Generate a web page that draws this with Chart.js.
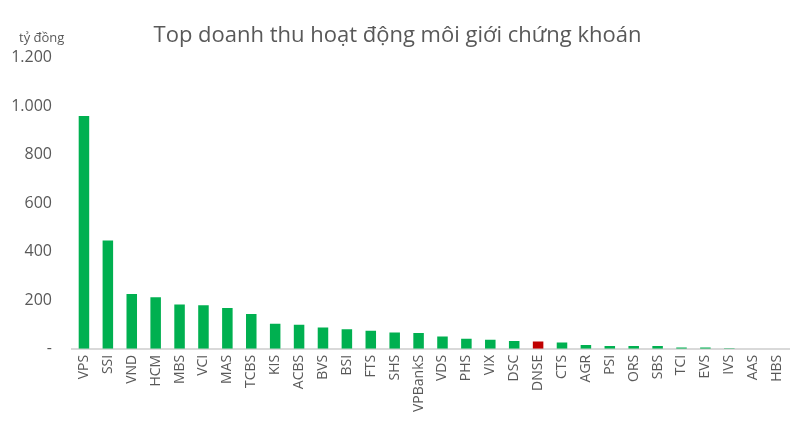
<!DOCTYPE html>
<html>
<head>
<meta charset="utf-8">
<script src="https://cdn.jsdelivr.net/npm/chart.js@4"></script>
<style>
html,body{margin:0;padding:0;background:#fff;}
#wrap{position:relative;width:800px;height:423px;}
</style>
</head>
<body>
<div id="wrap"><canvas id="c" width="800" height="423"></canvas></div>
<script>
const categories = ["VPS","SSI","VND","HCM","MBS","VCI","MAS","TCBS","KIS","ACBS","BVS","BSI","FTS","SHS","VPBankS","VDS","PHS","VIX","DSC","DNSE","CTS","AGR","PSI","ORS","SBS","TCI","EVS","IVS","AAS","HBS"];
const revenue = [959,446,226,212,182,179,168,143,103,99,88,80,74,67,65,51,41,37,32,30,26,16,11,11,12,5,5,2,0,0];
const highlight = "DNSE";
const yTicks = [0,200,400,600,800,1000,1200];
const unitLabel = "tỷ đồng";
const titleText = "Top doanh thu hoạt động môi giới chứng khoán";

const GREEN = "#00B050", RED = "#C00000";
const colors = categories.map(c => c === highlight ? RED : GREEN);

const unitPlugin = {
  id: 'unit',
  afterDraw(chart) {
    const ctx = chart.ctx;
    ctx.save();
    ctx.font = '13px "Open Sans"';
    ctx.fillStyle = '#595959';
    ctx.textAlign = 'left';
    ctx.textBaseline = 'middle';
    ctx.fillText(unitLabel, 19, 38);
    ctx.restore();
  }
};

new Chart(document.getElementById('c'), {
  type: 'bar',
  data: {
    labels: categories,
    datasets: [{
      data: revenue,
      backgroundColor: colors,
      borderWidth: 0,
      categoryPercentage: 1,
      barPercentage: 0.44
    }]
  },
  options: {
    responsive: false,
    animation: false,
    layout: { padding: { left: 0, right: 5, top: 0, bottom: 5 } },
    plugins: {
      legend: { display: false },
      tooltip: { enabled: false },
      title: {
        display: true,
        text: titleText,
        color: '#595959',
        font: { family: '"Open Sans"', size: 22, weight: 'normal' },
        padding: { top: 23, bottom: 8 }
      }
    },
    scales: {
      x: {
        grid: { display: false, drawTicks: false },
        border: { display: true, color: '#D9D9D9', width: 2 },
        ticks: {
          color: '#595959',
          font: { family: '"Open Sans"', size: 14 },
          maxRotation: 90, minRotation: 90,
          autoSkip: false,
          padding: 6
        }
      },
      y: {
        min: 0, max: 1200,
        afterBuildTicks(axis) { axis.ticks = yTicks.map(v => ({ value: v })); },
        grid: { display: false, drawTicks: false },
        border: { display: false },
        ticks: {
          color: '#595959',
          font: { family: '"Open Sans"', size: 16 },
          padding: 20,
          callback(v) { return v === 0 ? '-' : v.toLocaleString('de-DE'); }
        },
        afterFit(axis) { axis.width = 72; }
      }
    }
  },
  plugins: [unitPlugin]
});
</script>
</body>
</html>
